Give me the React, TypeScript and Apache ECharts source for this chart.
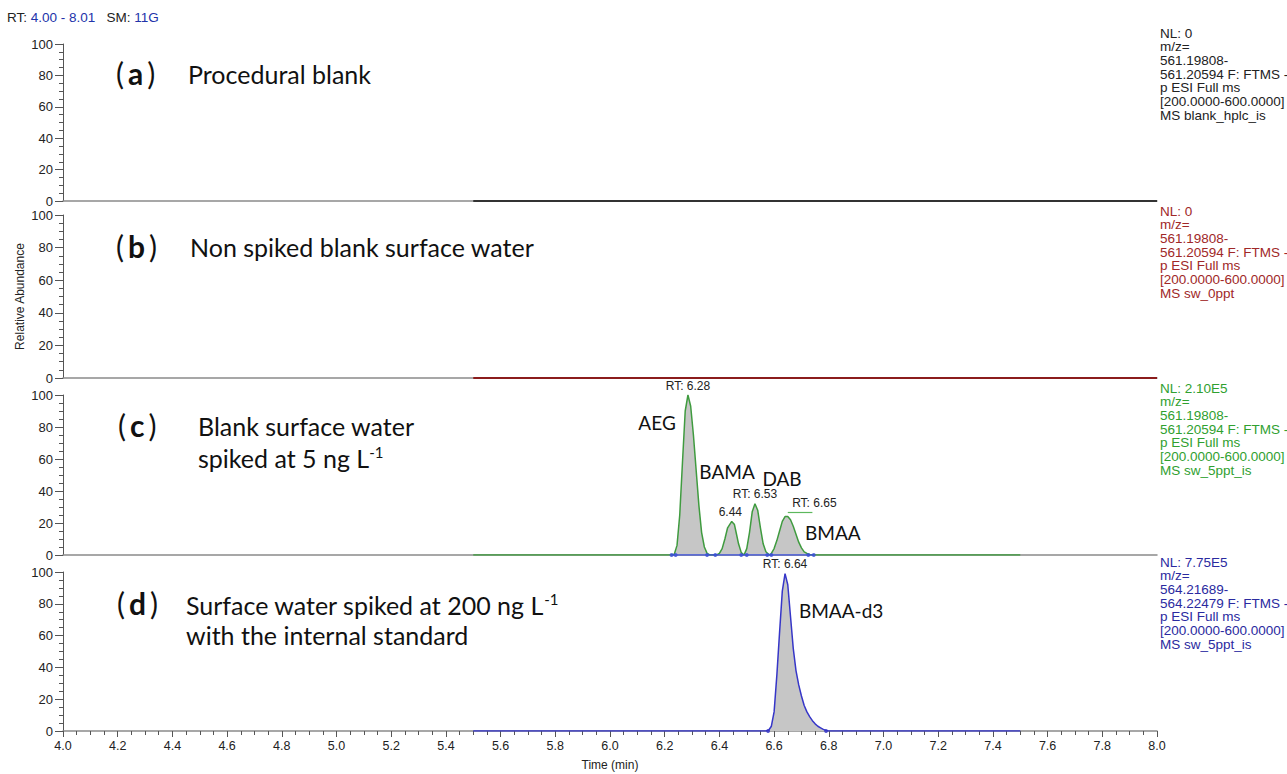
import React, { useEffect, useRef } from "react";
import * as echarts from "echarts";

// ---------- data ----------
const xMin = 4.0;
const xMax = 8.0;
const xTickStep = 0.2;

// panel (a) procedural blank: flat trace
const traceA: [number, number][] = [[5.5, 0], [8.0, 0]];
// panel (b) non spiked surface water: flat trace
const traceB: [number, number][] = [[5.5, 0], [8.0, 0]];
// panel (c) surface water spiked at 5 ng/L
const traceC: [number, number][] = [
  [5.5, 0], [6.22, 0], [6.235, 0.5], [6.245, 6], [6.255, 25], [6.265, 58], [6.275, 90], [6.285, 100],
  [6.295, 93], [6.305, 75], [6.315, 53], [6.325, 31], [6.335, 14], [6.345, 5], [6.355, 1], [6.365, 0],
  [6.39, 0], [6.40, 1], [6.41, 4], [6.42, 10], [6.43, 17], [6.445, 21], [6.455, 19], [6.46, 15],
  [6.47, 7], [6.48, 1.5], [6.49, 0],
  [6.50, 4], [6.51, 14], [6.52, 27], [6.53, 32], [6.54, 28], [6.55, 17], [6.56, 7], [6.57, 2], [6.58, 0.5],
  [6.585, 0], [6.59, 1], [6.60, 4], [6.61, 9], [6.62, 15], [6.63, 21], [6.64, 24], [6.65, 24],
  [6.66, 22], [6.67, 18], [6.68, 13], [6.69, 8], [6.70, 4.5], [6.71, 2], [6.72, 1], [6.73, 0.3], [6.74, 0],
  [7.5, 0],
];
// integration boundaries (panel c)
const boundsC: number[] = [6.225, 6.24, 6.355, 6.385, 6.48, 6.5, 6.575, 6.59, 6.725, 6.745];
// panel (d) internal standard BMAA-d3
const traceD: [number, number][] = [
  [5.5, 0], [6.57, 0], [6.58, 0.5], [6.59, 3], [6.60, 12], [6.61, 35], [6.62, 62], [6.63, 88],
  [6.64, 99], [6.65, 92], [6.66, 72], [6.67, 52], [6.68, 38], [6.69, 29], [6.70, 22], [6.71, 16],
  [6.72, 12], [6.73, 9], [6.74, 6.5], [6.75, 4.5], [6.76, 3], [6.77, 2], [6.78, 1], [6.79, 0.3],
  [6.80, 0], [7.5, 0],
];
const boundsD: number[] = [6.578, 6.79];

// peak retention-time labels [time, abundance, text]
const rtLabelsC: [number, number, string][] = [
  [6.285, 100, "RT: 6.28"],
  [6.44, 21, "6.44"],
  [6.53, 32, "RT: 6.53"],
];
const rtLabelsD: [number, number, string][] = [[6.64, 99, "RT: 6.64"]];
// compound names [time, abundance, text]
const compoundsC: [number, number, string][] = [
  [6.172, 83, "AEG"],
  [6.428, 52, "BAMA"],
  [6.629, 48, "DAB"],
  [6.815, 14, "BMAA"],
];
const compoundsD: [number, number, string][] = [[6.845, 76, "BMAA-d3"]];

const infoA = ["NL: 0", "m/z=", "561.19808-", "561.20594 F: FTMS -", "p ESI Full ms", "[200.0000-600.0000]", "MS blank_hplc_is"];
const infoB = ["NL: 0", "m/z=", "561.19808-", "561.20594 F: FTMS -", "p ESI Full ms", "[200.0000-600.0000]", "MS sw_0ppt"];
const infoC = ["NL: 2.10E5", "m/z=", "561.19808-", "561.20594 F: FTMS -", "p ESI Full ms", "[200.0000-600.0000]", "MS sw_5ppt_is"];
const infoD = ["NL: 7.75E5", "m/z=", "564.21689-", "564.22479 F: FTMS -", "p ESI Full ms", "[200.0000-600.0000]", "MS sw_5ppt_is"];

// ---------- styles ----------
const SANS = "'Liberation Sans', Arial, sans-serif";
const LABEL_FONT = "Lato, 'Open Sans', sans-serif";
const colA = "#333333";
const colB = "#8b1c1c";
const colC = "#3f9b3f";
const colD = "#3636c8";
const txtA = "#222222";
const txtB = "#a02828";
const txtC = "#30a030";
const txtD = "#2a2aa0";
const fillGray = "#c6c6c6";

const grids = [
  { left: 63, width: 1094, top: 44, height: 157 },
  { left: 63, width: 1094, top: 215, height: 163 },
  { left: 63, width: 1094, top: 395, height: 160 },
  { left: 63, width: 1094, top: 572, height: 159 },
];

function App() {
  const ref = useRef<HTMLDivElement>(null);
  useEffect(() => {
    if (!ref.current) return;
    const chart = echarts.init(ref.current, undefined, { renderer: "svg" });

    const xAxes = grids.map((_, i) => {
      const bottom = i === 3;
      return {
        type: "value",
        gridIndex: i,
        min: xMin,
        max: xMax,
        interval: xTickStep,
        axisLine: { show: true, lineStyle: { color: "#8a8a8a", width: 1.5 } },
        axisTick: { show: bottom, length: 6, lineStyle: { color: "#555" } },
        minorTick: { show: bottom, splitNumber: 4, length: 4, lineStyle: { color: "#555" } },
        splitLine: { show: false },
        axisLabel: {
          show: bottom,
          fontFamily: SANS,
          fontSize: 12.5,
          color: "#222",
          margin: 8,
          formatter: (v: number) => v.toFixed(1),
        },
        name: bottom ? "Time (min)" : "",
        nameLocation: "middle",
        nameGap: 28,
        nameTextStyle: { fontFamily: SANS, fontSize: 12, color: "#222" },
      };
    });

    const yAxes = grids.map((_, i) => ({
      type: "value",
      gridIndex: i,
      min: 0,
      max: 100,
      interval: 20,
      axisLine: { show: true, lineStyle: { color: "#555", width: 1 } },
      axisTick: { show: true, length: 8, lineStyle: { color: "#555" } },
      minorTick: { show: true, splitNumber: 4, length: 4, lineStyle: { color: "#555" } },
      splitLine: { show: false },
      axisLabel: { fontFamily: SANS, fontSize: 13, color: "#222", margin: 10 },
      name: i === 1 ? "Relative Abundance" : "",
      nameLocation: "middle",
      nameGap: 37,
      nameMoveOverlap: false,
      nameTextStyle: { fontFamily: SANS, fontSize: 12, color: "#222" },
    }));

    const mkLabelPoints = (arr: [number, number, string][]) =>
      arr.map(([t, v, s]) => ({
        coord: [t, v],
        symbol: "circle",
        symbolSize: 1,
        itemStyle: { color: "transparent" },
        label: {
          show: true,
          position: "top",
          distance: 3,
          formatter: s,
          fontFamily: SANS,
          fontSize: 12,
          color: "#222",
        },
      }));
    const mkCompoundPoints = (arr: [number, number, string][]) =>
      arr.map(([t, v, s]) => ({
        coord: [t, v],
        symbol: "circle",
        symbolSize: 1,
        itemStyle: { color: "transparent" },
        label: {
          show: true,
          position: "inside",
          formatter: s,
          fontFamily: LABEL_FONT,
          fontSize: 19,
          color: "#111",
        },
      }));

    const series: any[] = [
      {
        type: "line",
        xAxisIndex: 0,
        yAxisIndex: 0,
        data: traceA,
        showSymbol: false,
        lineStyle: { color: colA, width: 2 },
        z: 3,
      },
      {
        type: "line",
        xAxisIndex: 1,
        yAxisIndex: 1,
        data: traceB,
        showSymbol: false,
        lineStyle: { color: colB, width: 2 },
        z: 3,
      },
      {
        type: "line",
        xAxisIndex: 2,
        yAxisIndex: 2,
        data: traceC,
        showSymbol: false,
        lineStyle: { color: colC, width: 1.5 },
        areaStyle: { color: fillGray, opacity: 1 },
        z: 3,
        markPoint: {
          data: [
            ...mkLabelPoints(rtLabelsC),
            {
              coord: [6.645, 24],
              symbol: "circle",
              symbolSize: 1,
              itemStyle: { color: "transparent" },
              label: {
                show: true,
                position: "top",
                distance: 3,
                offset: [28, -4],
                formatter: "RT: 6.65",
                fontFamily: SANS,
                fontSize: 12,
                color: "#222",
              },
            },
            ...mkCompoundPoints(compoundsC),
          ],
        },
        markLine: {
          silent: true,
          symbol: "none",
          label: { show: false },
          lineStyle: { color: "#5cb85c", width: 1.2, type: "solid" },
          data: [[{ coord: [6.65, 27] }, { coord: [6.74, 27] }]],
        },
      },
      {
        type: "line",
        xAxisIndex: 2,
        yAxisIndex: 2,
        data: [[boundsC[0], 0], [boundsC[boundsC.length - 1], 0]],
        showSymbol: false,
        lineStyle: { color: "#3b4fd8", width: 1.5 },
        z: 4,
      },
      {
        type: "scatter",
        xAxisIndex: 2,
        yAxisIndex: 2,
        data: boundsC.map((t) => [t, 0]),
        symbol: "circle",
        symbolSize: 4,
        itemStyle: { color: "#3b4fd8" },
        z: 5,
      },
      {
        type: "line",
        xAxisIndex: 3,
        yAxisIndex: 3,
        data: traceD,
        showSymbol: false,
        lineStyle: { color: colD, width: 1.5 },
        areaStyle: { color: fillGray, opacity: 1 },
        z: 3,
        markPoint: {
          data: [...mkLabelPoints(rtLabelsD), ...mkCompoundPoints(compoundsD)],
        },
      },
      {
        type: "scatter",
        xAxisIndex: 3,
        yAxisIndex: 3,
        data: boundsD.map((t) => [t, 0]),
        symbol: "circle",
        symbolSize: 4,
        itemStyle: { color: colD },
        z: 5,
      },
    ];

    const infoBlock = (lines: string[], top: number, color: string) => ({
      type: "text",
      left: 1160,
      top,
      style: {
        text: lines.join("\n"),
        fill: color,
        font: `13.5px ${SANS}`,
        lineHeight: 13.7,
      },
    });

    const panelTitle = (letter: string, left: number, cy: number) => ({
      type: "text",
      left,
      top: cy - 18,
      style: {
        text: `{p|(}{b|${letter}}{p|)}`,
        rich: {
          p: { fontSize: 30, fontFamily: LABEL_FONT, fill: "#111" },
          b: { fontSize: 30, fontFamily: LABEL_FONT, fontWeight: "bold", fill: "#111", padding: [0, 4, 0, 4] },
        },
      },
    });

    const panelText = (text: string, left: number, cy: number) => ({
      type: "text",
      left,
      top: cy - 15,
      style: {
        text,
        rich: {
          n: { fontSize: 25, fontFamily: LABEL_FONT, fill: "#111" },
          s: { fontSize: 15, fontFamily: LABEL_FONT, fill: "#111", verticalAlign: "top", padding: [0, 0, 12, 0] },
        },
      },
    });

    const graphic: any[] = [
      {
        type: "text",
        left: 7,
        top: 10,
        style: {
          text: "{k|RT: }{v|4.00 - 8.01}{k|   SM: }{v|11G}",
          rich: {
            k: { fontSize: 13.5, fontFamily: SANS, fill: "#222" },
            v: { fontSize: 13.5, fontFamily: SANS, fill: "#2233aa" },
          },
        },
      },
      infoBlock(infoA, 26, txtA),
      infoBlock(infoB, 204, txtB),
      infoBlock(infoC, 381, txtC),
      infoBlock(infoD, 555, txtD),
      panelTitle("a", 116, 76),
      panelText("{n|Procedural blank}", 188, 76),
      panelTitle("b", 116, 249),
      panelText("{n|Non spiked blank surface water}", 190, 249),
      panelTitle("c", 118, 428),
      panelText("{n|Blank surface water}", 198, 428),
      panelText("{n|spiked at 5 ng L}{s|-1}", 198, 459),
      panelTitle("d", 117, 606),
      panelText("{n|Surface water spiked at 200 ng L}{s|-1}", 186, 606),
      panelText("{n|with the internal standard}", 186, 637),
    ];

    chart.setOption({
      animation: false,
      backgroundColor: "#ffffff",
      grid: grids,
      xAxis: xAxes,
      yAxis: yAxes,
      series,
      graphic,
    });
    return () => chart.dispose();
  }, []);

  return (
    <div
      ref={ref}
      style={{ position: "fixed", left: 0, top: 0, width: 1287, height: 774, background: "#fff" }}
    />
  );
}

export default App;
